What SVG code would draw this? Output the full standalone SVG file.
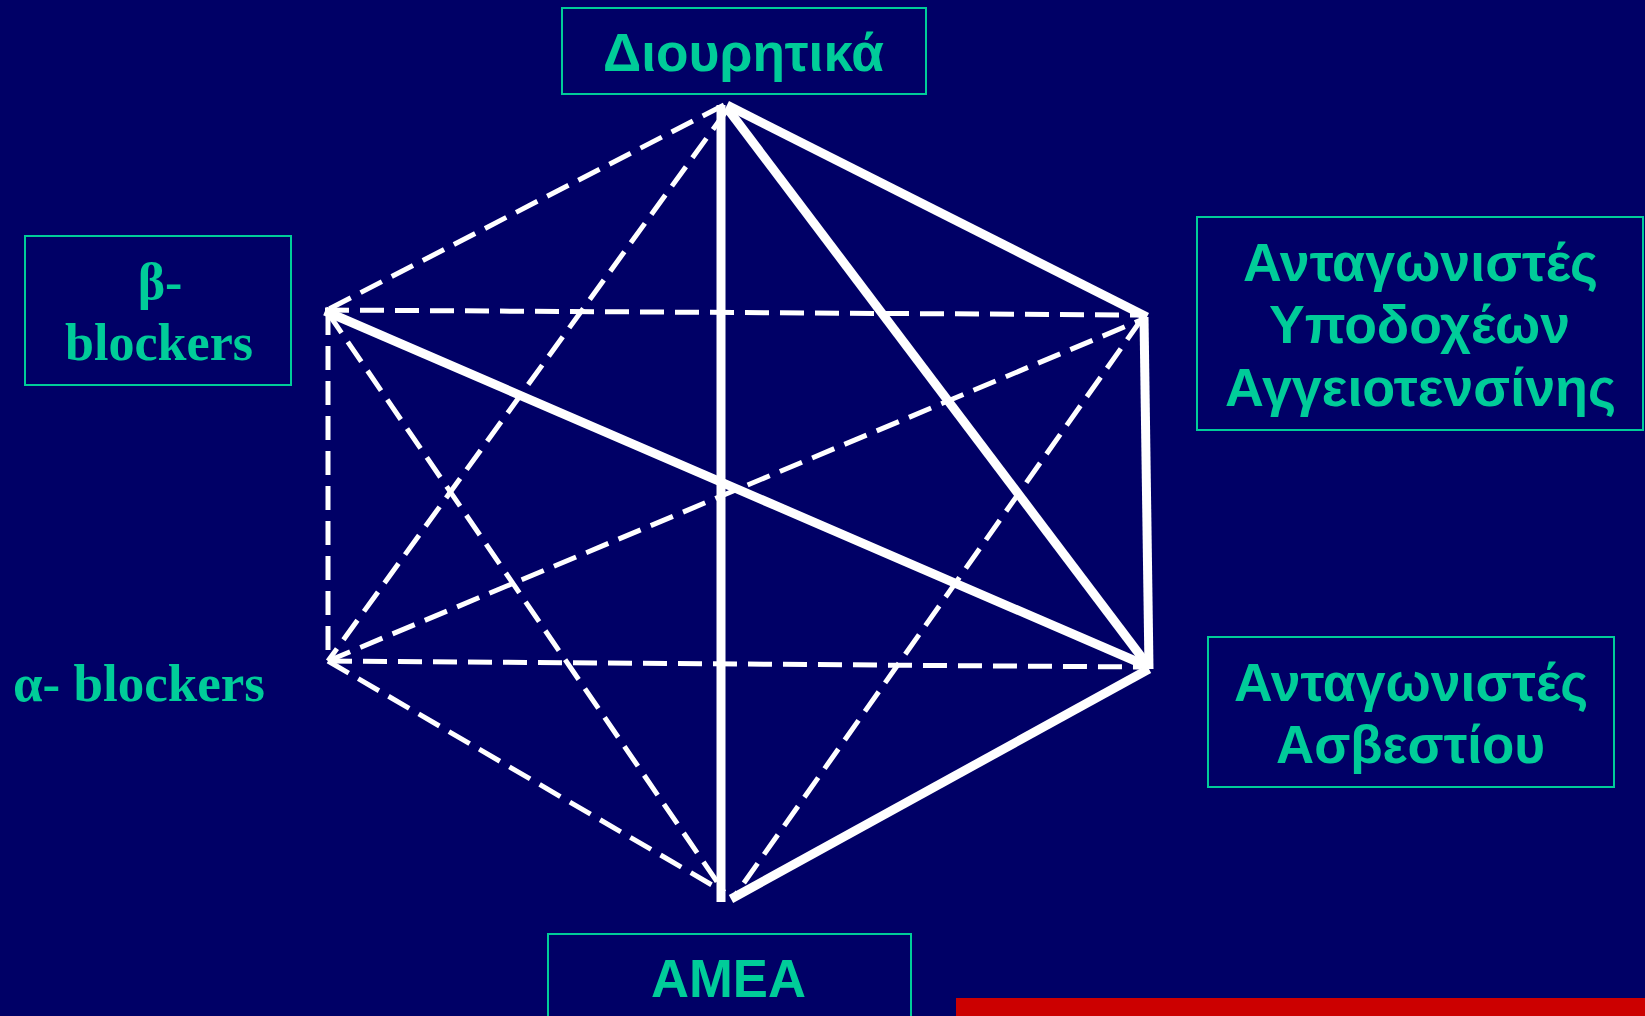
<svg xmlns="http://www.w3.org/2000/svg" width="1645" height="1016" viewBox="0 0 1645 1016">
<style>
.box{fill:none;stroke:#00CC99;stroke-width:2}
.gr{font-family:"Liberation Sans",Arial,sans-serif;font-weight:bold;font-size:53px;fill:#00CC99}
.sf{font-family:"Liberation Serif","Times New Roman",serif;font-weight:bold;font-size:52px;fill:#00CC99}
.solid{stroke:#FFFFFF;stroke-width:9;fill:none;stroke-linecap:butt}
.dash{stroke:#FFFFFF;stroke-width:5;fill:none;stroke-dasharray:24 11}
</style>
<rect x="0" y="0" width="1645" height="1016" fill="#000066"/>
<g id="connectors">
<line class="dash" x1="724" y1="105" x2="325" y2="311"/>
<line class="dash" x1="325" y1="310" x2="1138" y2="315"/>
<line class="dash" x1="727" y1="110" x2="328" y2="661"/>
<line class="dash" x1="328" y1="311" x2="328" y2="661"/>
<line class="dash" x1="328" y1="313" x2="724" y2="892"/>
<line class="dash" x1="328" y1="661" x2="1141" y2="320"/>
<line class="dash" x1="328" y1="661" x2="1141" y2="667"/>
<line class="dash" x1="328" y1="661" x2="724" y2="892"/>
<line class="dash" x1="1141" y1="320" x2="734" y2="897"/>
<line class="solid" x1="727" y1="105" x2="1147" y2="317"/>
<line class="solid" x1="1144" y1="317" x2="1149" y2="669"/>
<line class="solid" x1="1149" y1="669" x2="731" y2="899"/>
<line class="solid" x1="721" y1="105" x2="721" y2="902"/>
<line class="solid" x1="727" y1="108" x2="1146" y2="663"/>
<line class="solid" x1="325" y1="311" x2="1147" y2="666"/>
</g>
<g id="node-diouretika">
<rect class="box" x="562" y="8" width="364" height="86"/>
<text class="gr" x="603" y="71" textLength="281" lengthAdjust="spacingAndGlyphs">Διουρητικά</text>
</g>
<g id="node-beta">
<rect class="box" x="25" y="236" width="266" height="149"/>
<text class="sf" x="160" y="299" text-anchor="middle">β-</text>
<text class="sf" x="65" y="360" textLength="188" lengthAdjust="spacingAndGlyphs">blockers</text>
</g>
<g id="node-alpha">
<text class="sf" x="13" y="701" textLength="252" lengthAdjust="spacingAndGlyphs">α- blockers</text>
</g>
<g id="node-arb">
<rect class="box" x="1197" y="217" width="446" height="213"/>
<text class="gr" x="1243" y="281" textLength="355" lengthAdjust="spacingAndGlyphs">Ανταγωνιστές</text>
<text class="gr" x="1269" y="343" textLength="301" lengthAdjust="spacingAndGlyphs">Υποδοχέων</text>
<text class="gr" x="1225" y="406" textLength="391" lengthAdjust="spacingAndGlyphs">Αγγειοτενσίνης</text>
</g>
<g id="node-ccb">
<rect class="box" x="1208" y="637" width="406" height="150"/>
<text class="gr" x="1234" y="701" textLength="354" lengthAdjust="spacingAndGlyphs">Ανταγωνιστές</text>
<text class="gr" x="1276" y="763" textLength="269" lengthAdjust="spacingAndGlyphs">Ασβεστίου</text>
</g>
<g id="node-amea">
<rect class="box" x="548" y="934" width="363" height="100"/>
<text class="gr" x="651" y="997" textLength="155" lengthAdjust="spacingAndGlyphs">AMEA</text>
</g>
<rect x="956" y="998" width="689" height="18" fill="#CC0000"/>
</svg>
